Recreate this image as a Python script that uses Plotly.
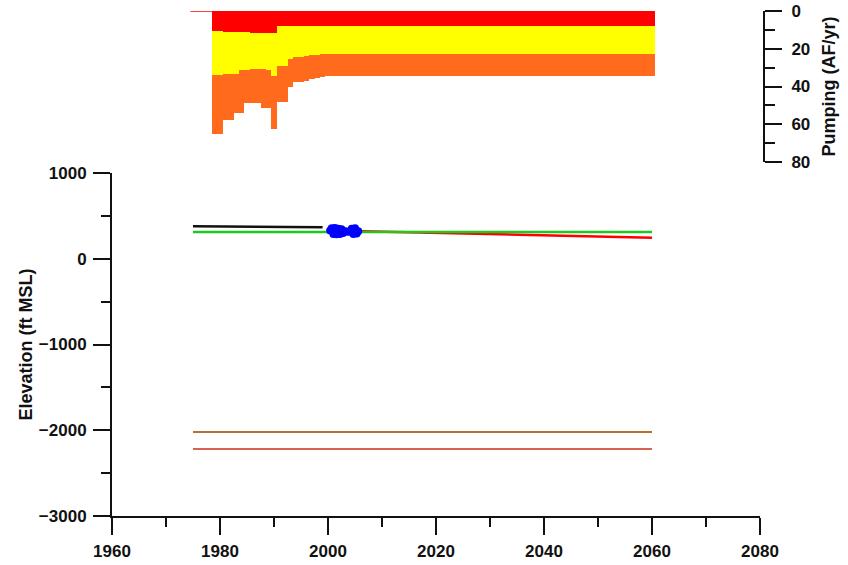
import plotly.graph_objects as go

# ---------------- data ----------------
pump_years = list(range(1975, 2061))
pump_red = [0, 0, 0, 0,
            10.7, 10.8, 10.9, 11.0, 11.1, 11.2, 11.3, 11.4, 11.5, 11.5, 11.6, 11.6,
            8.1, 8.1, 8.1, 8.1, 8.1, 8.1, 8.1, 8.1, 8.1] + [8.1] * 61
pump_yellow = [0, 0, 0, 0,
               23.4, 23.3, 22.3, 22.2, 22.1, 20.3, 20.2, 19.2, 19.1, 19.1, 19.9, 22.9,
               20.8, 20.8, 17.4, 16.4, 16.1, 15.9, 15.4, 15.1, 14.8] + [14.8] * 61
pump_orange = [0, 0, 0, 0,
               31.2, 31.2, 24.3, 24.3, 20.8, 22.5, 17.3, 18.2, 18.2, 20.8, 19.9, 28.2,
               19.1, 19.1, 14.5, 13.0, 13.3, 13.0, 12.5, 12.3, 12.1] + [11.4] * 61

hist_years = [1975, 1980, 1985, 1990, 1995, 1999]
hist_elev = [380, 378, 375, 372, 369, 366]

obs_years = [2000.4, 2000.7, 2001.0, 2001.3, 2001.6, 2001.9, 2002.2, 2002.5, 2002.8,
             2003.2, 2003.6, 2004.0, 2004.4, 2004.7, 2005.0, 2005.3, 2005.6]
obs_elev = [330, 355, 290, 360, 285, 350, 290, 345, 300,
            320, 315, 318, 350, 290, 355, 295, 320]

pred_years = [2000, 2010, 2020, 2030, 2040, 2050, 2060]
pred_elev = [330, 315, 302, 288, 273, 258, 245]

ref_years = [1975, 2060]
ref_elev = [312, 312]

screen_top = [-2020, -2020]
screen_bot = [-2220, -2220]

x_ticks = [1960, 1980, 2000, 2020, 2040, 2060, 2080]
y_ticks = [1000, 0, -1000, -2000, -3000]
p_ticks = [0, 20, 40, 60, 80]

# ---------------- figure ----------------
fig = go.Figure()

for vals, col in [(pump_red, "#ff0000"), (pump_yellow, "#ffff00"), (pump_orange, "#ff6a1c")]:
    fig.add_trace(go.Bar(x=pump_years, y=vals, width=1.0, marker=dict(color=col, line=dict(width=0)),
                         xaxis="x", yaxis="y2", showlegend=False))

zero_years = [y for y, r in zip(pump_years, pump_red) if r == 0]
fig.add_trace(go.Scatter(x=[zero_years[0] - 0.5, zero_years[-1] + 0.5], y=[0, 0], mode="lines",
                         line=dict(color="#ff0000", width=1.5), xaxis="x", yaxis="y2", showlegend=False))

fig.add_trace(go.Scatter(x=ref_years, y=screen_top, mode="lines",
                         line=dict(color="#b8702e", width=2), showlegend=False))
fig.add_trace(go.Scatter(x=ref_years, y=screen_bot, mode="lines",
                         line=dict(color="#d8634e", width=2), showlegend=False))
fig.add_trace(go.Scatter(x=hist_years, y=hist_elev, mode="lines",
                         line=dict(color="#111111", width=2.5), showlegend=False))
fig.add_trace(go.Scatter(x=pred_years, y=pred_elev, mode="lines",
                         line=dict(color="#ff0000", width=2.5), showlegend=False))
fig.add_trace(go.Scatter(x=ref_years, y=ref_elev, mode="lines",
                         line=dict(color="#1ec81e", width=2.5), showlegend=False))
fig.add_trace(go.Scatter(x=obs_years, y=obs_elev, mode="markers+lines",
                         line=dict(color="#0000ff", width=2),
                         marker=dict(color="#0000ff", size=8), showlegend=False))

tickfont = dict(family="Liberation Sans, Arial, sans-serif", size=17, color="#111111", weight="bold")
titlefont = dict(family="Liberation Sans, Arial, sans-serif", size=18, color="#111111", weight="bold")

FIG_W, FIG_H = 848, 565
ML, MR, MT, MB = 112, 40, 11, 49
W_PLOT = FIG_W - ML - MR
H_PLOT = FIG_H - MT - MB

fig.update_layout(
    width=FIG_W, height=FIG_H,
    margin=dict(l=ML, r=MR, t=MT, b=MB, pad=0),
    paper_bgcolor="white", plot_bgcolor="white",
    barmode="stack", bargap=0,
    showlegend=False,
    xaxis=dict(range=[1960, 2080], domain=[0, 648 / W_PLOT], anchor="y", automargin=False,
               tickvals=x_ticks, ticks="outside", ticklen=17, tickwidth=2, tickcolor="#111111",
               minor=dict(dtick=10, tick0=1960, ticks="outside", ticklen=9, tickwidth=2, tickcolor="#111111"),
               showline=True, linecolor="#111111", linewidth=2, showgrid=False, zeroline=False,
               tickfont=tickfont, ticklabelstandoff=2),
    yaxis=dict(range=[-3000, 1000], domain=[0, 343 / H_PLOT], anchor="x", automargin=False,
               tickvals=y_ticks, ticks="outside", ticklen=17, tickwidth=2, tickcolor="#111111",
               minor=dict(dtick=500, tick0=0, ticks="outside", ticklen=9, tickwidth=2, tickcolor="#111111"),
               showline=True, linecolor="#111111", linewidth=2, showgrid=False, zeroline=False,
               tickfont=tickfont, ticklabelstandoff=3,
               title=dict(text="Elevation (ft MSL)", font=titlefont, standoff=2)),
    yaxis2=dict(range=[80, 0], domain=[(343 + 11) / H_PLOT, 1], anchor="free", automargin=False,
                position=652 / W_PLOT, side="right",
                tickvals=p_ticks, ticks="outside", ticklen=17, tickwidth=2, tickcolor="#111111",
                minor=dict(dtick=10, tick0=0, ticks="outside", ticklen=10, tickwidth=2, tickcolor="#111111"),
                showline=True, linecolor="#111111", linewidth=2, showgrid=False, zeroline=False,
                tickfont=tickfont, ticklabelstandoff=6,
                title=dict(text="Pumping (AF/yr)", font=titlefont, standoff=12)),
)

fig.write_html("out.html", config={"displayModeBar": False},
               post_script="document.body.style.margin='0px';")
